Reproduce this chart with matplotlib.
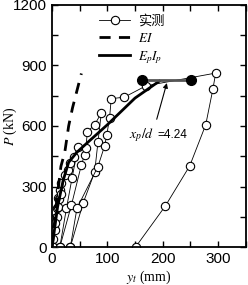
import matplotlib
matplotlib.use("Agg")
from matplotlib import pyplot as plt
from matplotlib.ticker import MultipleLocator

plt.rcParams['font.family'] = ['Liberation Sans', 'Noto Sans CJK SC', 'DejaVu Sans']
plt.rcParams['mathtext.fontset'] = 'stix'

# measured hysteresis loops (y_t in mm, P in kN)
loop1_y = [0, 2, 3, 5, 8, 11, 14, 17, 13, 8, 5, 2]
loop1_P = [0, 40, 95, 143, 194, 242, 283, 316, 240, 150, 84, 0]
loop2_y = [2, 5, 11, 17, 23, 29, 32, 39, 47, 36, 26, 14]
loop2_P = [0, 120, 200, 265, 357, 382, 416, 448, 498, 340, 192, 0]
loop3_y = [14, 35, 53, 59, 61, 64, 77, 89, 83, 77, 56, 33]
loop3_P = [0, 208, 407, 457, 490, 572, 606, 664, 520, 371, 217, 0]
loop4_y = [33, 45, 83, 95, 99, 104, 107, 131, 170, 296, 291, 278, 249, 205, 151]
loop4_P = [0, 192, 399, 501, 556, 639, 735, 743, 799, 862, 783, 606, 402, 204, 0]

# EI analysis
ei_y = [0, 8, 16, 23, 30, 37, 45, 53]
ei_P = [0, 220, 400, 470, 600, 690, 775, 860]

# Ep Ip analysis
ep_y = [0, 10, 20, 30, 45, 65, 100, 150, 194]
ep_P = [0, 200, 330, 420, 470, 520, 606, 738, 822]

# plastic plateau
pl_y = [162, 252]
pl_P = [826, 826]

fig = plt.figure(figsize=(2.48, 2.85), dpi=100)
ax = fig.add_axes([0.21, 0.133, 0.78, 0.85])

mk = dict(color='black', lw=0.6, marker='o', ms=6, mfc='white', mec='black', mew=0.8)
ax.plot(loop1_y, loop1_P, label='实测', **mk)
ax.plot(loop2_y, loop2_P, **mk)
ax.plot(loop3_y, loop3_P, **mk)
ax.plot(loop4_y, loop4_P, **mk)

ax.plot(ei_y, ei_P, color='black', lw=2, ls=(0, (4, 3)), label='$EI$')
ax.plot(ep_y, ep_P, color='black', lw=2, label='$E_pI_p$')
ax.plot(pl_y, pl_P, color='#555555', lw=2, marker='o', ms=7, mfc='black', mec='black')

ax.annotate('', xy=(209, 826), xytext=(188, 620),
            arrowprops=dict(arrowstyle='-|>', color='black', lw=0.8, mutation_scale=7))
ax.text(140, 556, '$x_p/d$', fontsize=10, va='center', ha='left')
ax.text(190, 556, '=4.24', fontsize=8.5, va='center', ha='left')

ax.set_xlim(0, 350)
ax.set_ylim(0, 1200)
ax.xaxis.set_major_locator(MultipleLocator(100))
ax.xaxis.set_minor_locator(MultipleLocator(50))
ax.yaxis.set_major_locator(MultipleLocator(300))
ax.yaxis.set_minor_locator(MultipleLocator(150))
ax.tick_params(which='both', direction='in', top=True, right=True, length=4, width=1, labelsize=11)
for s in ax.spines.values():
    s.set_linewidth(1.3)

ax.set_xlabel('$y_t$ (mm)', family='Liberation Serif', fontsize=10, labelpad=2)
ax.set_ylabel('$P$ (kN)', family='Liberation Serif', fontsize=10)
ax.yaxis.set_label_coords(-0.17, 0.5)

leg = ax.legend(loc='upper left', bbox_to_anchor=(0.2, 0.99), frameon=False, fontsize=9.5,
                handlelength=2.4, handletextpad=0.6, labelspacing=0.3, borderaxespad=0.2)

fig.savefig('out.png', dpi=100)
